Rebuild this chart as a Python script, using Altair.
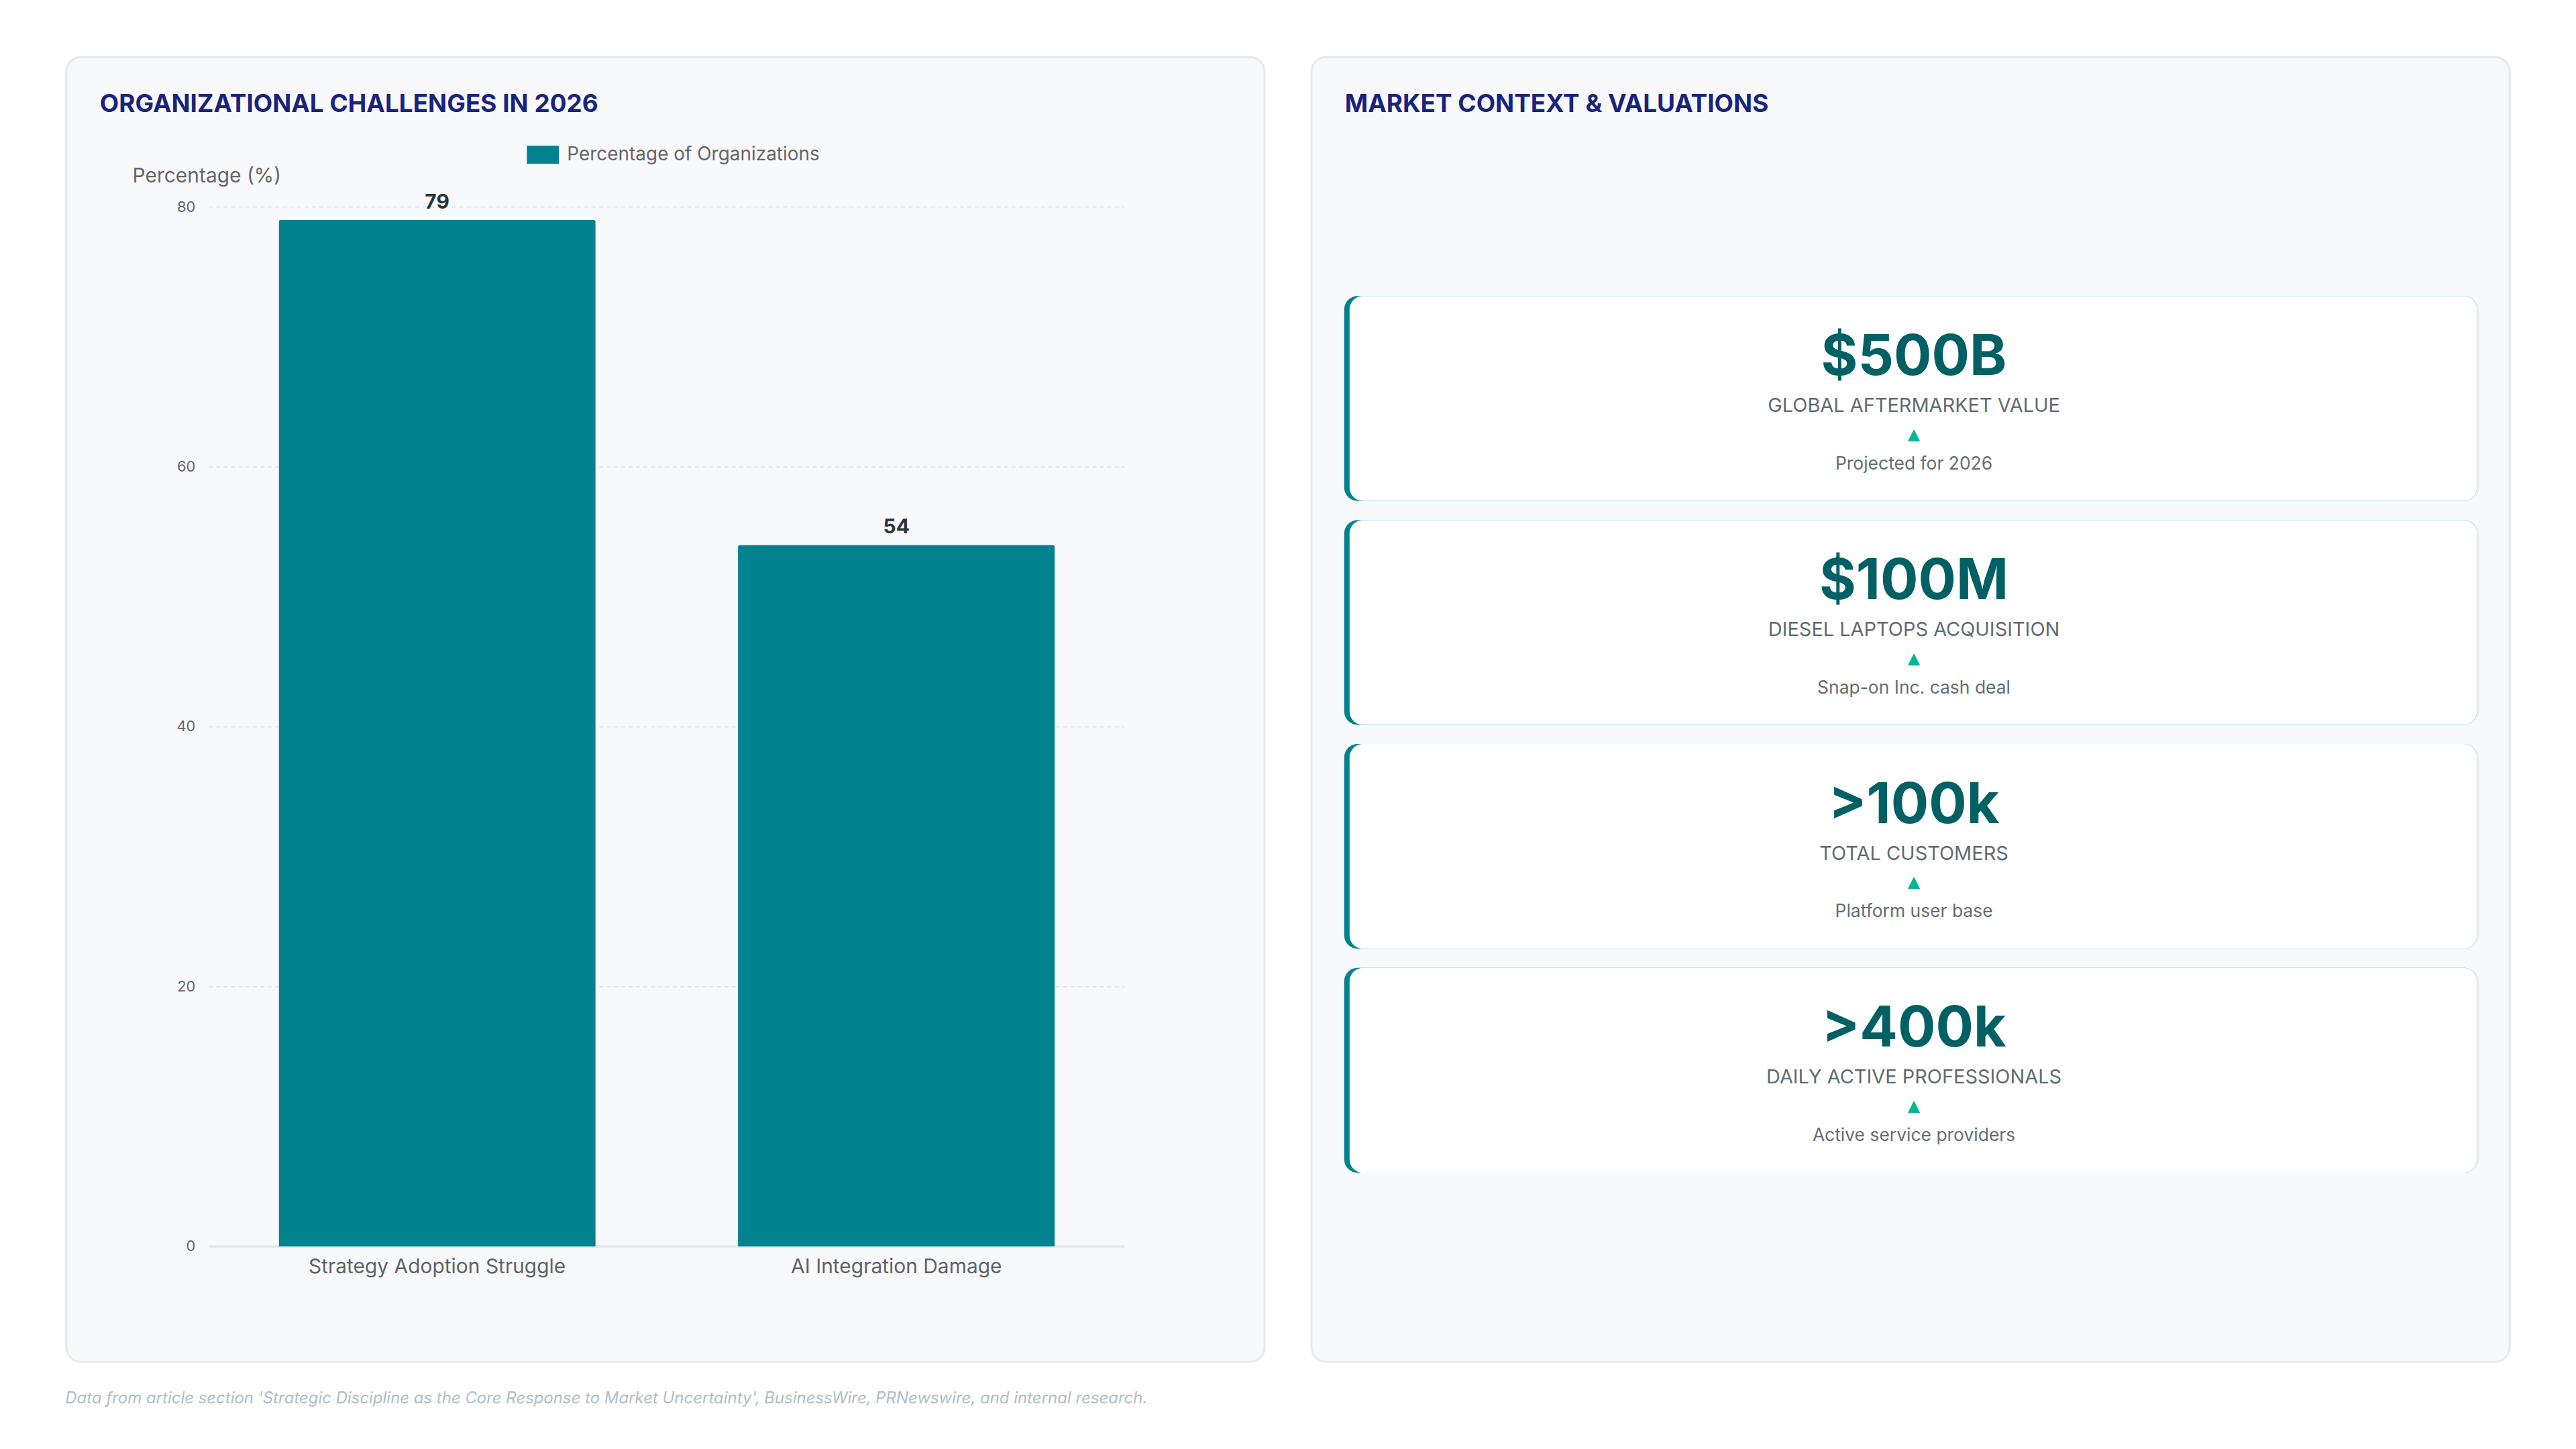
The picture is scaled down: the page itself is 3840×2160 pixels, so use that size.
import altair as alt
import pandas as pd

# ---------------- data ----------------
categories = ["Strategy Adoption Struggle", "AI Integration Damage"]
percentages = [79, 54]
series_name = "Percentage of Organizations"
y_ticks = [0, 20, 40, 60, 80]

card_values = ["$500B", "$100M", ">100k", ">400k"]
card_labels = ["GLOBAL AFTERMARKET VALUE", "DIESEL LAPTOPS ACQUISITION",
               "TOTAL CUSTOMERS", "DAILY ACTIVE PROFESSIONALS"]
card_notes = ["Projected for 2026", "Snap-on Inc. cash deal",
              "Platform user base", "Active service providers"]
card_marker = "\u25B2"

left_title = "ORGANIZATIONAL CHALLENGES IN 2026"
right_title = "MARKET CONTEXT & VALUATIONS"
y_title = "Percentage (%)"
footnote = ("Data from article section 'Strategic Discipline as the Core Response to "
            "Market Uncertainty', BusinessWire, PRNewswire, and internal research.")

# ---------------- style ----------------
FONT = "Inter"
TEAL = "#00838f"
NAVY = "#1a237e"
PW, PH = 1790, 1949

bar_df = pd.DataFrame({"category": categories, "value": percentages,
                       "series": [series_name] * len(categories)})
tick_df = pd.DataFrame({"tick": y_ticks})
card_df = pd.DataFrame({"value": card_values, "label": card_labels,
                        "note": card_notes, "marker": [card_marker] * len(card_values)})

xscale = alt.Scale(domain=categories, range=[213, 1581], paddingInner=0.31, paddingOuter=0.152)
yscale = alt.Scale(domain=[0, 80], range=[1777, 224], nice=False)

X = alt.X("category:N", scale=xscale, axis=None, sort=categories)

bars = alt.Chart(bar_df).mark_bar(cornerRadiusTopLeft=3, cornerRadiusTopRight=3).encode(
    x=X,
    y=alt.Y("value:Q", scale=yscale, axis=None),
    color=alt.Color("series:N", scale=alt.Scale(range=[TEAL]),
                    legend=alt.Legend(orient="none", legendX=688, legendY=122, title=None,
                                      symbolType="M-1,-0.5625H1V0.5625H-1Z", symbolSize=2304,
                                      symbolStrokeWidth=0, symbolOpacity=1,
                                      labelFont=FONT, labelFontSize=28, labelColor="#666666",
                                      labelOffset=12, labelLimit=0)),
)

grid = alt.Chart(tick_df).transform_filter("datum.tick > 0").mark_rule(
    color="#e4e7eb", strokeWidth=2, strokeDash=[6, 5]).encode(
    y=alt.Y("tick:Q", scale=yscale, axis=None), x=alt.value(213), x2=alt.value(1581))

zero_line = alt.Chart(tick_df).transform_filter("datum.tick == 0").mark_rule(
    color="#e4e7eb", strokeWidth=4).encode(
    y=alt.Y("tick:Q", scale=yscale, axis=None), x=alt.value(213), x2=alt.value(1581))

tick_labels = alt.Chart(tick_df).mark_text(
    align="right", baseline="middle", font=FONT, fontSize=22, color="#666666").encode(
    y=alt.Y("tick:Q", scale=yscale, axis=None), x=alt.value(193), text="tick:Q")

value_labels = alt.Chart(bar_df).mark_text(
    baseline="alphabetic", dy=-17, font=FONT, fontSize=30, fontWeight=700, color="#2d3436").encode(
    x=X, y=alt.Y("value:Q", scale=yscale, axis=None), text="value:Q")

x_labels = alt.Chart(bar_df).mark_text(
    baseline="alphabetic", font=FONT, fontSize=30, color="#5f6368").encode(
    x=X, y=alt.value(1817), text="category:N")

ltitle = alt.Chart(pd.DataFrame({"t": [left_title]})).mark_text(
    align="left", baseline="alphabetic", font=FONT, fontSize=37, fontWeight=700, color=NAVY).encode(
    x=alt.value(50), y=alt.value(82), text="t:N")

ytitle = alt.Chart(pd.DataFrame({"t": [y_title]})).mark_text(
    align="left", baseline="alphabetic", font=FONT, fontSize=30, color="#666666").encode(
    x=alt.value(99), y=alt.value(187), text="t:N")

left = alt.layer(grid, zero_line, bars, value_labels, tick_labels, x_labels, ltitle, ytitle).properties(
    width=PW, height=PH)

# ---------------- right panel ----------------
yband = alt.Scale(domain=card_labels, range=[357, 1666.5], paddingInner=0.0852, paddingOuter=0)
Y = alt.Y("label:N", scale=yband, axis=None, sort=card_labels)

card_shadow = alt.Chart(card_df).mark_rect(cornerRadius=22, color="#000000", opacity=0.03).encode(
    y=Y, x=alt.value(50), x2=alt.value(1745))
card_border = alt.Chart(card_df).mark_rect(cornerRadius=20, color=TEAL).encode(
    y=Y, x=alt.value(49), x2=alt.value(1741))
card_body = alt.Chart(card_df).mark_rect(cornerRadius=20, color="#ffffff").encode(
    y=Y, x=alt.value(57), x2=alt.value(1741))

card_value = alt.Chart(card_df).mark_text(
    baseline="alphabetic", dy=-35, font=FONT, fontSize=84, fontWeight=700, color="#006064").encode(
    y=Y, x=alt.value(900), text="value:N")
card_label = alt.Chart(card_df).mark_text(
    baseline="alphabetic", dy=20, font=FONT, fontSize=29, color="#5f6b70").encode(
    y=Y, x=alt.value(900), text="label:N")
card_mark = alt.Chart(card_df).mark_text(
    baseline="middle", dy=54, font="DejaVu Sans", fontSize=24, color="#00b894").encode(
    y=Y, x=alt.value(900), text="marker:N")
card_note = alt.Chart(card_df).mark_text(
    baseline="alphabetic", dy=106, font=FONT, fontSize=26.5, color="#636e72").encode(
    y=Y, x=alt.value(900), text="note:N")

rtitle = alt.Chart(pd.DataFrame({"t": [right_title]})).mark_text(
    align="left", baseline="alphabetic", font=FONT, fontSize=37, fontWeight=700, color=NAVY).encode(
    x=alt.value(50), y=alt.value(82), text="t:N")

right = alt.layer(card_shadow, card_border, card_body, card_value, card_label, card_mark,
                  card_note, rtitle).properties(width=PW, height=PH)

chart = alt.hconcat(left, right, spacing=66).properties(
    title=alt.TitleParams(footnote, orient="bottom", anchor="start", font=FONT, fontSize=24,
                          fontStyle="italic", fontWeight="normal", color="#b2bec3", offset=42),
    padding={"left": 89, "top": 73, "right": 89, "bottom": 40},
    background="#ffffff",
).configure(font=FONT).configure_view(
    fill="#f8f9fa", stroke="#e6e9ed", strokeWidth=3, cornerRadius=22
)

chart.save("out.html", embed_options={"renderer": "svg", "actions": False})
